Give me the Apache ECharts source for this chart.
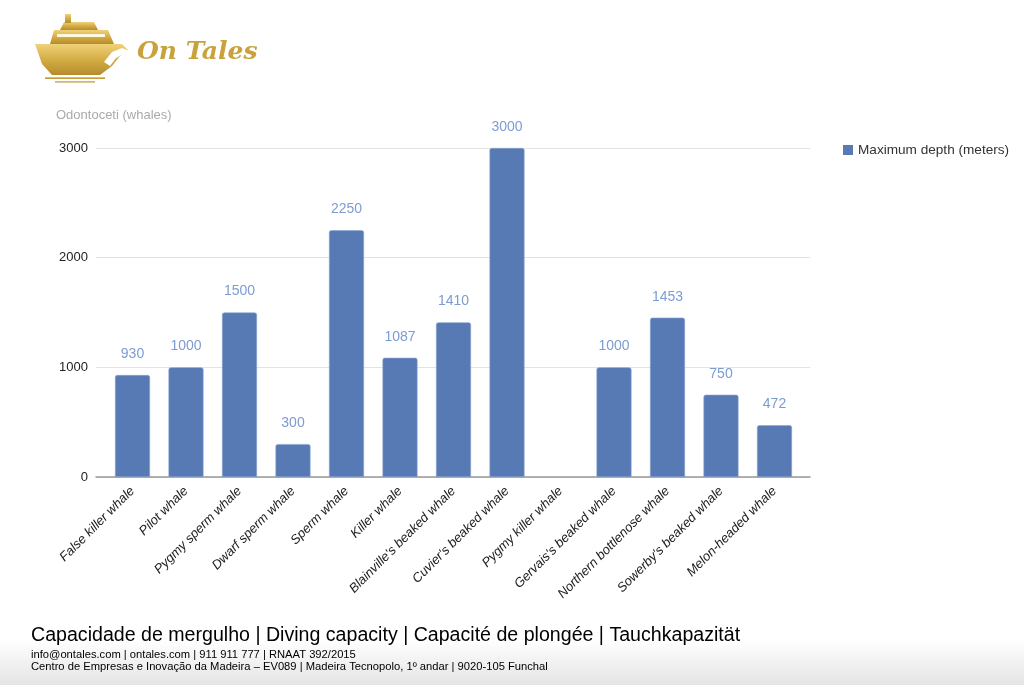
<!DOCTYPE html>
<html>
<head>
<meta charset="utf-8">
<script src="https://cdn.jsdelivr.net/npm/echarts@6/dist/echarts.min.js"></script>
<style>
html,body{margin:0;padding:0;background:#fff;}
#chart{width:1024px;height:685px;}
</style>
</head>
<body>
<div id="chart"></div>
<script>
const categories = ["False killer whale","Pilot whale","Pygmy sperm whale","Dwarf sperm whale","Sperm whale","Killer whale","Blainville's beaked whale","Cuvier's beaked whale","Pygmy killer whale","Gervais's beaked whale","Northern bottlenose whale","Sowerby's beaked whale","Melon-headed whale"];
const maxDepth = [930,1000,1500,300,2250,1087,1410,3000,null,1000,1453,750,472];
const yTicks = {min:0, max:3000, interval:1000};
const seriesName = "Maximum depth (meters)";
const axisTitle = "Odontoceti (whales)";
const footerTitle = "Capacidade de mergulho | Diving capacity | Capacité de plongée | Tauchkapazität";
const footerLine1 = "info@ontales.com | ontales.com | 911 911 777 | RNAAT 392/2015";
const footerLine2 = "Centro de Empresas e Inovação da Madeira – EV089 | Madeira Tecnopolo, 1º andar | 9020-105 Funchal";

const chart = echarts.init(document.getElementById('chart'));
const gold = new echarts.graphic.LinearGradient(0,0,0,1,[{offset:0,color:'#f0d27a'},{offset:0.5,color:'#d4ad45'},{offset:1,color:'#b58c2c'}]);
const FONT = 'Liberation Sans, Arial, sans-serif';

chart.setOption({
  animation:false,
  backgroundColor:'#fff',
  textStyle:{fontFamily:FONT},
  legend:{
    left:843, top:143, padding:0, icon:'rect', itemWidth:10, itemHeight:10, itemGap:6,
    itemStyle:{borderWidth:0},
    textStyle:{fontSize:13.6,color:'#333',fontFamily:FONT},
    data:[seriesName]
  },
  grid:[
    {left:105.75, right:222.75, top:148, bottom:208},
    {left:96, right:214, top:148, bottom:208}
  ],
  xAxis:[
    {type:'category', gridIndex:0, data:categories,
     axisLine:{show:false}, axisTick:{show:false},
     axisLabel:{rotate:45, interval:0, margin:12, fontSize:13, fontStyle:'italic', color:'#222', fontFamily:FONT}},
    {type:'value', gridIndex:1, min:0, max:1,
     axisLine:{show:true, lineStyle:{color:'#999', width:1.5}},
     axisTick:{show:false}, axisLabel:{show:false}, splitLine:{show:false}}
  ],
  yAxis:[
    {type:'value', gridIndex:0, min:yTicks.min, max:yTicks.max, interval:yTicks.interval,
     axisLabel:{show:false}, splitLine:{show:false}, axisLine:{show:false}, axisTick:{show:false}},
    {type:'value', gridIndex:1, min:yTicks.min, max:yTicks.max, interval:yTicks.interval,
     name:axisTitle, nameLocation:'end', nameGap:26,
     nameTextStyle:{color:'#aaa', fontSize:13, align:'left', padding:[0,0,0,-40], fontFamily:FONT},
     axisLine:{show:false}, axisTick:{show:false},
     axisLabel:{fontSize:13, color:'#222', margin:8, fontFamily:FONT, formatter:v=>String(v)},
     splitLine:{lineStyle:{color:'#e3e3e3', width:1}}}
  ],
  series:[{
    name:seriesName, type:'bar', xAxisIndex:0, yAxisIndex:0,
    data:maxDepth, barWidth:35, z:3,
    itemStyle:{color:'#5779b4', borderColor:'#8aa3d0', borderWidth:0.6, borderRadius:[2,2,0,0]},
    label:{show:true, position:'top', distance:14, color:'#7c9cd2', fontSize:14, fontFamily:FONT}
  }],
  graphic:[
    {type:'rect', shape:{x:0,y:640,width:1024,height:45}, silent:true, z:-10,
     style:{fill:new echarts.graphic.LinearGradient(0,0,0,1,[{offset:0,color:'#ffffff'},{offset:1,color:'#e4e4e4'}])}},
    // logo ship
    {type:'polygon', shape:{points:[[35,44],[122,44],[128,50],[120,56],[112,66],[100,75],[52,75],[42,64]]}, style:{fill:gold}},
    {type:'polygon', shape:{points:[[50,44],[54,30],[108,30],[114,44]]}, style:{fill:gold}},
    {type:'rect', shape:{x:57,y:34,width:48,height:3}, style:{fill:'#fff8e0'}},
    {type:'polygon', shape:{points:[[60,30],[64,22],[94,22],[98,30]]}, style:{fill:gold}},
    {type:'rect', shape:{x:65,y:14,width:6,height:9}, style:{fill:gold}},
    {type:'polygon', shape:{points:[[104,62],[112,52],[122,48],[132,52],[125,53],[116,58],[110,66]]}, style:{fill:'#fff'}},
    {type:'rect', shape:{x:45,y:77,width:60,height:2}, style:{fill:gold}},
    {type:'rect', shape:{x:55,y:81,width:40,height:1.5}, style:{fill:gold}},
    {type:'text', left:137, top:40, style:{text:'On Tales', font:'italic bold 25px "DejaVu Serif", serif', fill:'#c9a23c'}},
    // footer
    {type:'text', left:31, top:626, style:{text:footerTitle, font:'19.6px '+FONT, fill:'#000'}},
    {type:'text', left:31, top:649, style:{text:footerLine1, font:'11.2px '+FONT, fill:'#000'}},
    {type:'text', left:31, top:661, style:{text:footerLine2, font:'11.2px '+FONT, fill:'#000'}}
  ]
});
</script>
</body>
</html>
